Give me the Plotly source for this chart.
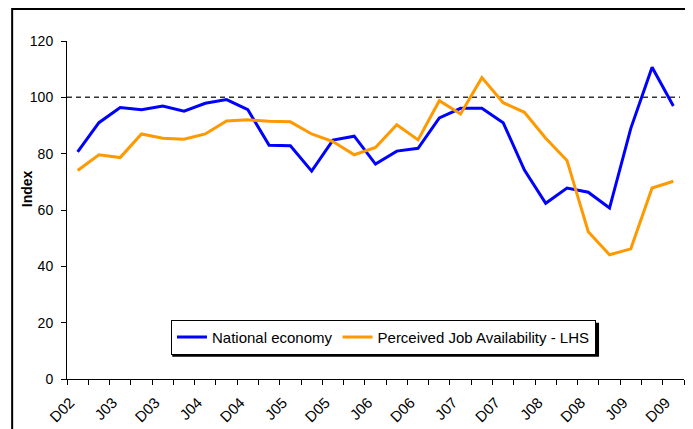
import plotly.graph_objects as go

quarters = ["D02","M03","J03","S03","D03","M04","J04","S04","D04","M05","J05","S05",
            "D05","M06","J06","S06","D06","M07","J07","S07","D07","M08","J08","S08",
            "D08","M09","J09","S09","D09"]
national_economy = [80.6, 91.0, 96.4, 95.6, 96.9, 95.1, 97.9, 99.2, 95.6, 83.0, 82.8, 73.8,
                    84.8, 86.2, 76.3, 80.9, 81.9, 92.7, 96.1, 96.1, 91.0, 74.2, 62.4, 67.8,
                    66.3, 60.7, 89.0, 110.7, 96.9]
job_availability = [74.0, 79.6, 78.6, 87.0, 85.5, 85.1, 87.0, 91.6, 92.0, 91.5, 91.3, 87.0,
                    84.3, 79.6, 82.2, 90.3, 84.9, 98.8, 94.1, 107.0, 98.1, 94.7, 85.5, 77.6,
                    52.3, 44.1, 46.2, 67.8, 70.2]
label_idx = list(range(0, len(quarters), 2))
tick_labels = [quarters[i] for i in label_idx]
xs = list(range(len(quarters)))

FONT = "Liberation Sans, Arial, sans-serif"
LABEL_SHIFT = 0.35  # nudge rotated labels so their ends sit at category centres

fig = go.Figure()
fig.add_trace(go.Scatter(x=xs, y=national_economy, mode="lines", name="National economy",
                         line=dict(color="#0000FF", width=3)))
fig.add_trace(go.Scatter(x=xs, y=job_availability, mode="lines",
                         name="Perceived Job Availability - LHS",
                         line=dict(color="#FF9900", width=3)))

# reference line at 100
fig.add_shape(type="line", xref="paper", yref="y", x0=0, x1=0.9935, y0=100, y1=100,
              line=dict(color="#333333", width=1.5, dash="5px,4px"), layer="below")

# outer chart border (cropped)
fig.add_shape(type="rect", xref="paper", yref="paper", x0=-0.0889, x1=1.2, y0=-0.5, y1=1.0946,
              line=dict(color="black", width=2), fillcolor="rgba(0,0,0,0)")

# legend shadow
fig.add_shape(type="rect", xref="paper", yref="paper",
              x0=0.1706, x1=0.8623, y0=0.0659, y1=0.1664,
              line=dict(width=0), fillcolor="black", layer="above")

# y axis title
fig.add_annotation(text="<b>Index</b>", xref="paper", yref="paper", x=-0.0643, y=0.5625,
                   xanchor="center", yanchor="middle",
                   textangle=-90, showarrow=False, font=dict(family=FONT, size=14, color="black"))

fig.update_layout(
    width=685, height=421,
    margin=dict(l=59, r=9, t=33, b=50, autoexpand=False),
    paper_bgcolor="white", plot_bgcolor="white",
    font=dict(family=FONT, size=14, color="black"),
    showlegend=True,
    legend=dict(orientation="h", x=0.1685, y=0.1753, xanchor="left", yanchor="top",
                bgcolor="white", bordercolor="black", borderwidth=1,
                font=dict(family=FONT, size=15, color="black"),
                itemwidth=30, tracegroupgap=0),
    xaxis=dict(range=[-0.5, len(quarters) - 0.5], tickmode="array", automargin=False,
               tickvals=[i - LABEL_SHIFT for i in label_idx], ticktext=tick_labels, tickangle=-45,
               ticks="", showline=True, linecolor="black", linewidth=1,
               showgrid=False, zeroline=False, ticklabelstandoff=8,
               tickfont=dict(family=FONT, size=15),
               minor=dict(tick0=-0.5, dtick=1, ticks="outside", ticklen=5,
                          tickcolor="black", showgrid=False)),
    yaxis=dict(range=[0, 120], tickmode="linear", tick0=0, dtick=20, automargin=False,
               ticks="outside", ticklen=5, tickcolor="black",
               showline=True, linecolor="black", linewidth=1,
               showgrid=False, zeroline=False, ticklabelstandoff=5,
               tickfont=dict(family=FONT, size=14)),
)

fig.write_html("out.html")
